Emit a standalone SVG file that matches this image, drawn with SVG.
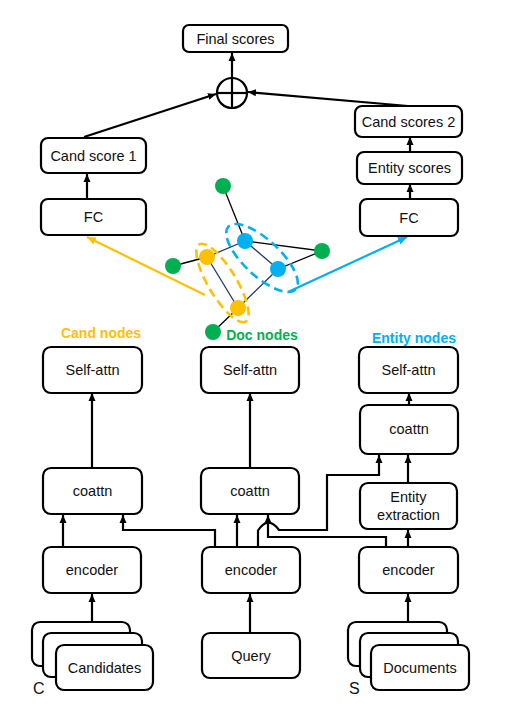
<svg xmlns="http://www.w3.org/2000/svg" width="527" height="706" viewBox="0 0 527 706">
<defs>
<marker id="ah" markerWidth="9" markerHeight="9" refX="8" refY="4.5" orient="auto" markerUnits="userSpaceOnUse"><path d="M0,1 L8,4.5 L0,8 z" fill="#000"/></marker>
<marker id="ahO" markerWidth="10" markerHeight="10" refX="9" refY="5" orient="auto" markerUnits="userSpaceOnUse"><path d="M0,1 L9,5 L0,9 z" fill="#FFC000"/></marker>
<marker id="ahB" markerWidth="10" markerHeight="10" refX="9" refY="5" orient="auto" markerUnits="userSpaceOnUse"><path d="M0,1 L9,5 L0,9 z" fill="#00B0F0"/></marker>
</defs>
<style>
.box{fill:#fff;stroke:#000;stroke-width:2.2}
.t{font-family:"Liberation Sans",Arial,sans-serif;font-size:14.5px;fill:#111;text-anchor:middle}
.lbl{font-family:"Liberation Sans",Arial,sans-serif;font-size:14px;font-weight:bold;text-anchor:middle}
.c{fill:none;stroke:#000;stroke-width:2.2}
.ca{fill:none;stroke:#000;stroke-width:2.2;marker-end:url(#ah)}
.ge{stroke:#000;stroke-width:1.3}
.gn{stroke:#1F3864;stroke-width:1.3}
.g{fill:#00B050}.y{fill:#FFC000}.b{fill:#00B0F0}
</style>
<rect width="527" height="706" fill="#fff"/>

<g id="connectors">
<line class="ca" x1="232" y1="78" x2="232" y2="53"/>
<line class="ca" x1="84" y1="137" x2="216" y2="94"/>
<line class="ca" x1="408" y1="106" x2="248" y2="92"/>
<line class="ca" x1="87" y1="199" x2="87" y2="174"/>
<line class="ca" x1="410" y1="199" x2="410" y2="184"/>
<line class="ca" x1="410" y1="152" x2="410" y2="137"/>
<line x1="205" y1="295" x2="87" y2="237" stroke="#FFC000" stroke-width="2.2" marker-end="url(#ahO)"/>
<line x1="288" y1="292" x2="407" y2="237" stroke="#00B0F0" stroke-width="2.2" marker-end="url(#ahB)"/>
<line class="ca" x1="92" y1="468" x2="92" y2="393"/>
<line class="ca" x1="250" y1="468" x2="250" y2="393"/>
<line class="ca" x1="409" y1="405" x2="409" y2="393"/>
<line class="ca" x1="408" y1="483" x2="408" y2="455"/>
<line class="ca" x1="408" y1="547" x2="408" y2="530"/>
<line class="ca" x1="63" y1="547" x2="63" y2="515"/>
<path class="ca" d="M215,547 V530 H123 V515"/>
<line class="ca" x1="237" y1="547" x2="237" y2="515"/>
<path class="ca" d="M386,547 V537 H268 V515"/>
<path class="ca" d="M258,547 V530.5 Q268,515 279,530 H327 V475 H379 V455"/>
<line class="ca" x1="92" y1="633" x2="92" y2="594"/>
<line class="ca" x1="250" y1="633" x2="250" y2="594"/>
<line class="ca" x1="408" y1="633" x2="408" y2="594"/>
</g>

<g id="final-scores"><rect class="box" x="183" y="25" width="105" height="27" rx="6"/><text class="t" x="235.5" y="43.5">Final scores</text></g>
<g id="sum"><circle cx="232" cy="93" r="15" fill="#fff" stroke="#000" stroke-width="2.2"/><line class="c" x1="217" y1="93" x2="247" y2="93"/><line class="c" x1="232" y1="78" x2="232" y2="108"/></g>
<g id="cand-score-1"><rect class="box" x="41" y="138" width="105" height="35" rx="7"/><text class="t" x="93.5" y="160.5">Cand score 1</text></g>
<g id="cand-scores-2"><rect class="box" x="355" y="106" width="107" height="31" rx="7"/><text class="t" x="408.5" y="126.5">Cand scores 2</text></g>
<g id="entity-scores"><rect class="box" x="357" y="152" width="105" height="32" rx="7"/><text class="t" x="409.5" y="173">Entity scores</text></g>
<g id="fc-left"><rect class="box" x="41" y="199" width="105" height="36" rx="7"/><text class="t" x="93.5" y="222">FC</text></g>
<g id="fc-right"><rect class="box" x="360" y="199" width="98" height="37" rx="7"/><text class="t" x="409" y="222.5">FC</text></g>

<g id="graph">
<line class="ge" x1="223" y1="186" x2="245" y2="241"/>
<line class="ge" x1="245" y1="241" x2="322" y2="251"/>
<line class="ge" x1="278" y1="269" x2="322" y2="251"/>
<line class="ge" x1="207" y1="257" x2="173" y2="266"/>
<line class="ge" x1="238" y1="308" x2="213" y2="332"/>
<line class="gn" x1="245" y1="241" x2="207" y2="257"/>
<line class="gn" x1="245" y1="241" x2="278" y2="269"/>
<line class="gn" x1="207" y1="257" x2="238" y2="308"/>
<line class="gn" x1="278" y1="269" x2="238" y2="308"/>
<ellipse cx="222.5" cy="283" rx="45" ry="14" transform="rotate(59 222.5 283)" fill="none" stroke="#FFC000" stroke-width="2.6" stroke-dasharray="9 5"/>
<ellipse cx="262" cy="258" rx="46" ry="18" transform="rotate(43 262 258)" fill="none" stroke="#00B0F0" stroke-width="2.6" stroke-dasharray="9 5"/>
<circle class="g" cx="223" cy="186" r="8"/>
<circle class="g" cx="322" cy="251" r="8"/>
<circle class="g" cx="173" cy="266" r="8"/>
<circle class="g" cx="213" cy="332" r="8"/>
<circle class="b" cx="245" cy="241" r="8"/>
<circle class="b" cx="278" cy="269" r="8"/>
<circle class="y" cx="207" cy="257" r="8"/>
<circle class="y" cx="238" cy="308" r="8"/>
</g>

<g id="labels">
<text class="lbl" x="101" y="338" fill="#FFC000">Cand nodes</text>
<text class="lbl" x="262" y="340" fill="#00B050">Doc nodes</text>
<text class="lbl" x="414" y="343" fill="#00B0F0">Entity nodes</text>
</g>

<g id="self-attn-left"><rect class="box" x="43" y="347" width="99" height="46" rx="8"/><text class="t" x="92.5" y="375">Self-attn</text></g>
<g id="self-attn-mid"><rect class="box" x="201" y="347" width="98" height="46" rx="8"/><text class="t" x="250" y="375">Self-attn</text></g>
<g id="self-attn-right"><rect class="box" x="359" y="347" width="99" height="46" rx="8"/><text class="t" x="408.5" y="375">Self-attn</text></g>
<g id="coattn-right"><rect class="box" x="360" y="405" width="98" height="49" rx="8"/><text class="t" x="409" y="434">coattn</text></g>
<g id="entity-extraction"><rect class="box" x="360" y="483" width="97" height="46" rx="8"/><text class="t" x="408.5" y="502">Entity</text><text class="t" x="408.5" y="520">extraction</text></g>
<g id="coattn-left"><rect class="box" x="43" y="468" width="99" height="46" rx="8"/><text class="t" x="92.5" y="496">coattn</text></g>
<g id="coattn-mid"><rect class="box" x="201" y="468" width="98" height="46" rx="8"/><text class="t" x="250" y="496">coattn</text></g>
<g id="encoder-left"><rect class="box" x="43" y="547" width="98" height="46" rx="8"/><text class="t" x="92" y="575">encoder</text></g>
<g id="encoder-mid"><rect class="box" x="202" y="547" width="98" height="46" rx="8"/><text class="t" x="251" y="575">encoder</text></g>
<g id="encoder-right"><rect class="box" x="359" y="547" width="99" height="46" rx="8"/><text class="t" x="408.5" y="575">encoder</text></g>

<g id="candidates">
<rect class="box" x="32" y="622" width="98" height="44" rx="8"/>
<rect class="box" x="43" y="633" width="99" height="44" rx="8"/>
<rect class="box" x="56" y="645" width="97" height="45" rx="8"/>
<text class="t" x="104.5" y="673">Candidates</text>
<text x="33" y="694" font-family="Liberation Sans, Arial, sans-serif" font-size="16" fill="#111">C</text>
</g>
<g id="query"><rect class="box" x="202" y="633" width="98" height="45" rx="8"/><text class="t" x="251" y="661">Query</text></g>
<g id="documents">
<rect class="box" x="348" y="622" width="99" height="44" rx="8"/>
<rect class="box" x="360" y="633" width="98" height="44" rx="8"/>
<rect class="box" x="371" y="645" width="98" height="45" rx="8"/>
<text class="t" x="420" y="673">Documents</text>
<text x="349" y="694" font-family="Liberation Sans, Arial, sans-serif" font-size="16" fill="#111">S</text>
</g>
</svg>
